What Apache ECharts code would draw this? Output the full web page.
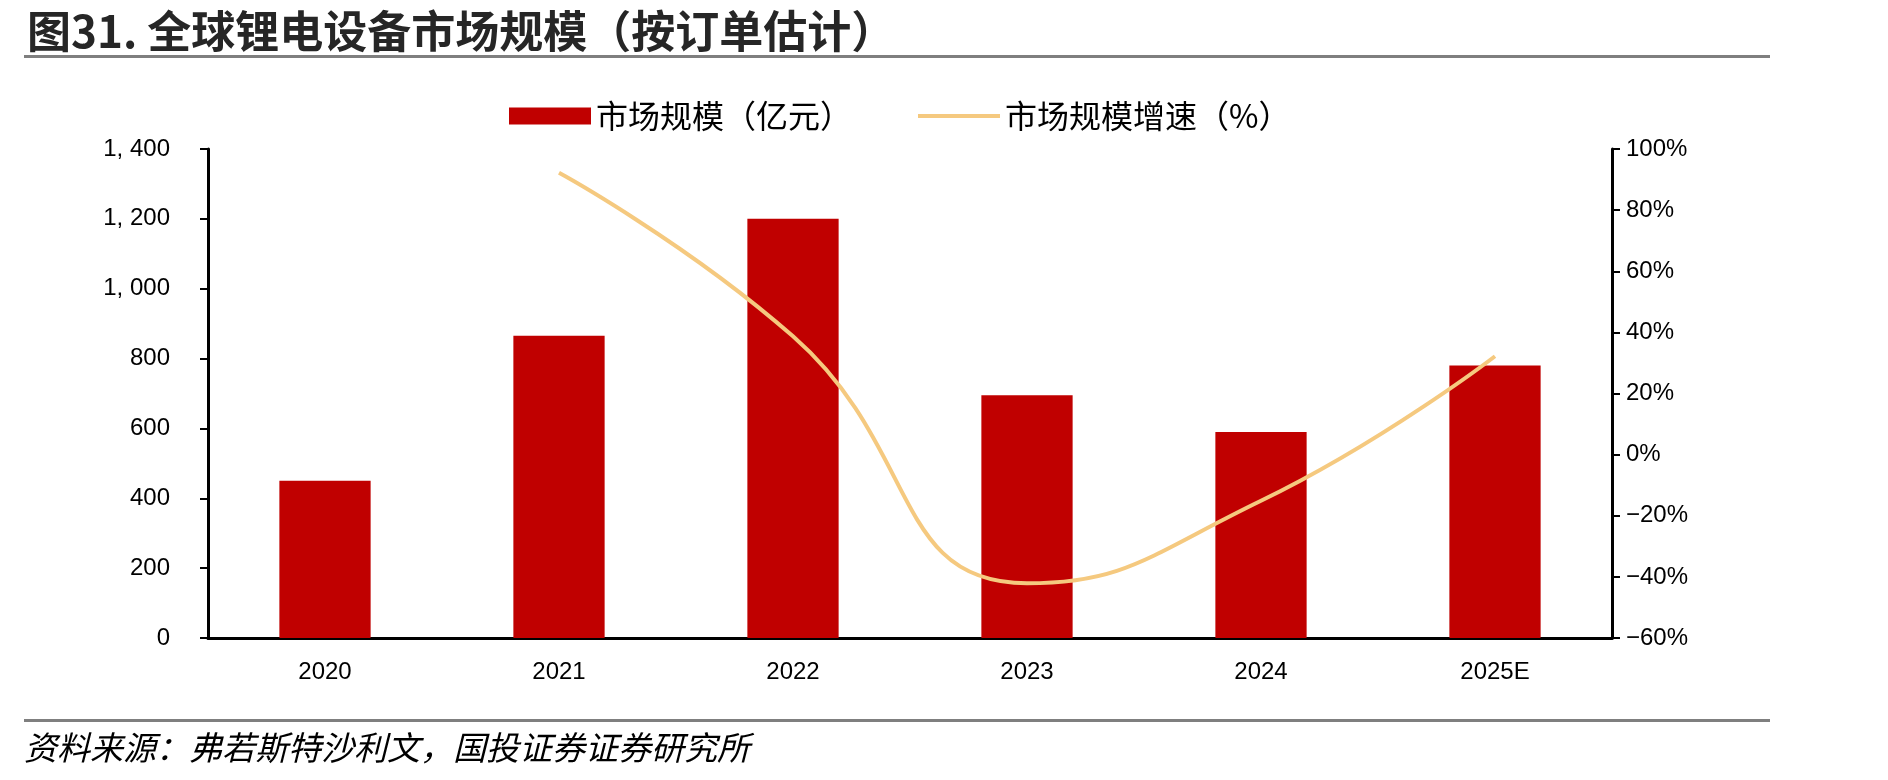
<!DOCTYPE html>
<html>
<head>
<meta charset="utf-8">
<title>全球锂电设备市场规模</title>
<script src="https://cdn.jsdelivr.net/npm/echarts@6/dist/echarts.min.js"></script>
<style>
  html, body { margin: 0; padding: 0; background: #fff; }
  #main { width: 1888px; height: 780px; }
</style>
</head>
<body>
<div id="main"></div>
<script>
// 数据
var categories = ['2020', '2021', '2022', '2023', '2024', '2025E'];
var marketSize = [450, 865, 1200, 695, 590, 780];          // 亿元
var growthRate = [null, 92.2, 38.7, -42.1, -15.1, 32.2];   // %
var leftTicks = { min: 0, max: 1400, interval: 200 };
var rightTicks = { min: -60, max: 100, interval: 20 };

var cjk = '"Noto Sans CJK SC", sans-serif';
var num = '"Liberation Sans", Arial, sans-serif';

var myChart = echarts.init(document.getElementById('main'));

var option = {
    backgroundColor: '#fff',
    animation: false,
    title: {
        text: '图31. 全球锂电设备市场规模（按订单估计）',
        left: 22,
        top: 4,
        textStyle: {
            fontFamily: cjk,
            fontSize: 44,
            fontWeight: 'bold',
            color: '#262626'
        }
    },
    graphic: [
        // 标题下分隔线
        { type: 'rect', shape: { x: 24, y: 55, width: 1746, height: 3 }, style: { fill: '#7f7f7f' } },
        // 底部分隔线
        { type: 'rect', shape: { x: 24, y: 719, width: 1746, height: 3 }, style: { fill: '#7f7f7f' } },
        {
            type: 'text',
            left: 24,
            top: 731,
            style: {
                text: '资料来源：弗若斯特沙利文，国投证券证券研究所',
                font: 'italic 33px ' + cjk,
                fill: '#000'
            }
        }
    ],
    legend: {
        left: 504,
        top: 95,
        itemWidth: 82,
        itemHeight: 17,
        itemGap: 66,
        textStyle: { fontFamily: cjk, fontSize: 32, color: '#000' },
        data: [
            { name: '市场规模（亿元）', icon: 'rect' },
            { name: '市场规模增速（%）', icon: 'path://M0,0L80,0L80,4L0,4Z' }
        ]
    },
    grid: {
        left: 208,
        right: 276,
        top: 149,
        bottom: 142
    },
    xAxis: {
        type: 'category',
        data: categories,
        axisLine: { lineStyle: { color: '#000', width: 3 } },
        axisTick: { inside: true, length: 7, lineStyle: { color: '#000', width: 2 } },
        axisLabel: { fontFamily: num, fontSize: 24, color: '#000', margin: 22 }
    },
    yAxis: [
        {
            type: 'value',
            min: leftTicks.min,
            max: leftTicks.max,
            interval: leftTicks.interval,
            splitLine: { show: false },
            axisLine: { show: true, lineStyle: { color: '#000', width: 3 } },
            axisTick: { show: true, length: 8, lineStyle: { color: '#000', width: 2 } },
            axisLabel: {
                fontFamily: num, fontSize: 24, color: '#000', margin: 38,
                formatter: function (v) { return v.toLocaleString('en-US').replace(',', ', '); }
            }
        },
        {
            type: 'value',
            position: 'right',
            min: rightTicks.min,
            max: rightTicks.max,
            interval: rightTicks.interval,
            splitLine: { show: false },
            axisLine: { show: true, lineStyle: { color: '#000', width: 3 } },
            axisTick: { show: true, length: 8, lineStyle: { color: '#000', width: 2 } },
            axisLabel: {
                fontFamily: num, fontSize: 24, color: '#000', margin: 14,
                formatter: function (v) { return String(v).replace('-', '−') + '%'; }
            }
        }
    ],
    series: [
        {
            name: '市场规模（亿元）',
            type: 'bar',
            data: marketSize,
            barWidth: '39%',
            itemStyle: { color: '#C00000' }
        },
        {
            name: '市场规模增速（%）',
            type: 'line',
            yAxisIndex: 1,
            data: growthRate,
            smooth: 0.5,
            symbol: 'none',
            lineStyle: { color: '#F5C97F', width: 4 },
            itemStyle: { color: '#F5C97F' }
        }
    ]
};

myChart.setOption(option);
</script>
</body>
</html>
